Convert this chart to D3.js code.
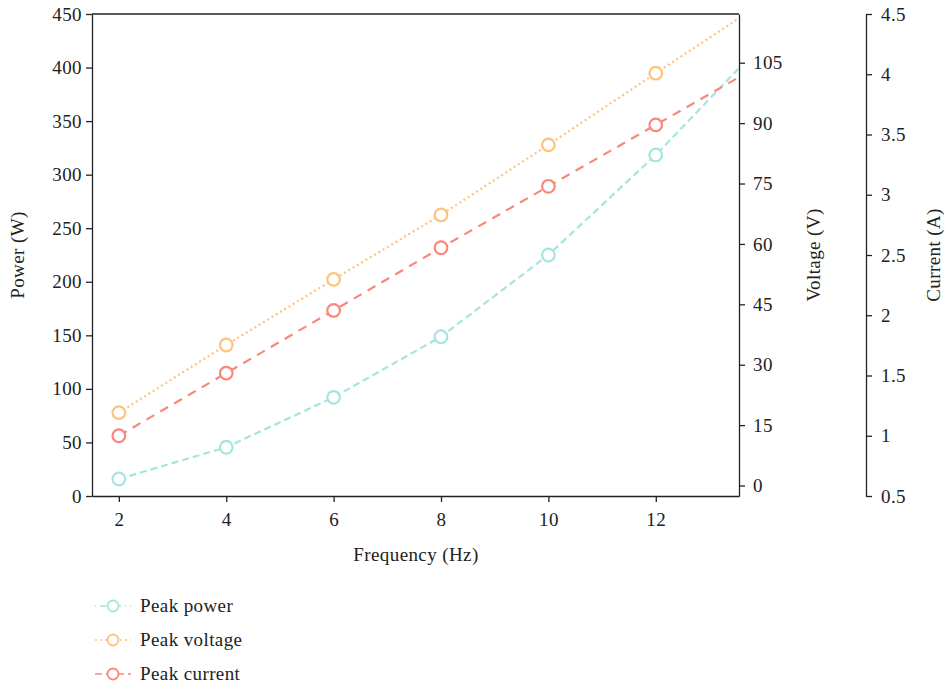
<!DOCTYPE html>
<html>
<head>
<meta charset="utf-8">
<script src="https://cdn.jsdelivr.net/npm/d3@7"></script>
<style>
  body { margin: 0; background: #fff; }
  text { font-family: "Liberation Serif", "DejaVu Serif", serif; fill: #222; letter-spacing: 0.4px; }
  .axis path, .axis line { stroke: #222; stroke-width: 1.3; }
  .axis text { font-size: 19px; }
</style>
</head>
<body>
<div id="chart"></div>
<script>
// frequency points (last one runs past the right edge and is clipped)
const freq = [2, 4, 6, 8, 10, 12, 14];
const power = [15.9, 45.5, 92.1, 148.7, 225, 318.4, 423];
const voltage = [18.1, 34.9, 51.2, 67.2, 84.6, 102.4, 120];
const current = [1.0, 1.52, 2.04, 2.56, 3.07, 3.58, 4.09];

const xTicks = [2, 4, 6, 8, 10, 12];
const powerTicks = [0, 50, 100, 150, 200, 250, 300, 350, 400, 450];
const voltTicks = [0, 15, 30, 45, 60, 75, 90, 105];
const currTicks = [0.5, 1, 1.5, 2, 2.5, 3, 3.5, 4, 4.5];

const W = 946, H = 689;
const plotL = 92, plotR = 739, plotT = 14, plotB = 496;
const currAxisX = 866;

const svg = d3.select("#chart").append("svg")
  .attr("width", W).attr("height", H);

const x = d3.scaleLinear().domain([1.5, 13.55]).range([plotL, plotR]);
const yP = d3.scaleLinear().domain([0, 450]).range([plotB, plotT]);
const yV = d3.scaleLinear().domain([-2.6, 117.1]).range([plotB, plotT]);
const yC = d3.scaleLinear().domain([0.5, 4.5]).range([plotB, plotT]);

svg.append("defs").append("clipPath").attr("id", "plot")
  .append("rect").attr("x", plotL).attr("y", plotT)
  .attr("width", plotR - plotL).attr("height", plotB - plotT);

const fmt = d => String(d);

// axes
svg.append("g").attr("class", "axis")
  .attr("transform", `translate(0,${plotB})`)
  .call(d3.axisBottom(x).tickValues(xTicks).tickFormat(fmt).tickSize(6).tickSizeOuter(0).tickPadding(11));

svg.append("g").attr("class", "axis")
  .attr("transform", `translate(${plotL},0)`)
  .call(d3.axisLeft(yP).tickValues(powerTicks).tickFormat(fmt).tickSize(6).tickSizeOuter(0).tickPadding(4));

svg.append("g").attr("class", "axis")
  .attr("transform", `translate(${plotR},0)`)
  .call(d3.axisRight(yV).tickValues(voltTicks).tickFormat(fmt).tickSize(6).tickSizeOuter(0).tickPadding(8));

svg.append("g").attr("class", "axis")
  .attr("transform", `translate(${currAxisX},0)`)
  .call(d3.axisRight(yC).tickValues(currTicks).tickFormat(fmt).tickSize(6).tickSizeOuter(0).tickPadding(9));

// top border of the plot box
svg.append("line")
  .attr("x1", plotL).attr("x2", plotR).attr("y1", plotT).attr("y2", plotT)
  .attr("stroke", "#222").attr("stroke-width", 1.3);

// axis titles
svg.append("text").attr("transform", `translate(24,255) rotate(-90)`)
  .attr("text-anchor", "middle").attr("font-size", 19).text("Power (W)");
svg.append("text").attr("transform", `translate(820,255) rotate(-90)`)
  .attr("text-anchor", "middle").attr("font-size", 19).text("Voltage (V)");
svg.append("text").attr("transform", `translate(940,255) rotate(-90)`)
  .attr("text-anchor", "middle").attr("font-size", 19).text("Current (A)");
svg.append("text").attr("x", 416).attr("y", 561)
  .attr("text-anchor", "middle").attr("font-size", 19).text("Frequency (Hz)");

const series = [
  { name: "Peak power", vals: power, y: yP, color: "#a6e5de", dash: "7,4", legDash: "1,4,6,4" },
  { name: "Peak voltage", vals: voltage, y: yV, color: "#fdc37a", dash: "2,3", legDash: "2,3" },
  { name: "Peak current", vals: current, y: yC, color: "#f9877c", dash: "9,7", legDash: "7,4" }
];

const plot = svg.append("g").attr("clip-path", "url(#plot)");

series.forEach(s => {
  const pts = freq.map((f, i) => [f, s.vals[i]]);
  plot.append("path")
    .datum(pts)
    .attr("fill", "none")
    .attr("stroke", s.color)
    .attr("stroke-width", 2.2)
    .attr("stroke-dasharray", s.dash)
    .attr("d", d3.line().x(d => x(d[0])).y(d => s.y(d[1])));
  plot.selectAll(null)
    .data(pts.filter(d => d[0] <= 12))
    .enter().append("circle")
    .attr("cx", d => x(d[0]))
    .attr("cy", d => s.y(d[1]))
    .attr("r", 6.3)
    .attr("fill", "#fff")
    .attr("stroke", s.color)
    .attr("stroke-width", 2.2);
});

// legend
const legend = svg.append("g");
series.forEach((s, i) => {
  const ly = 606 + i * 34;
  legend.append("line")
    .attr("x1", 95).attr("x2", 131).attr("y1", ly).attr("y2", ly)
    .attr("stroke", s.color).attr("stroke-width", 1.6)
    .attr("stroke-dasharray", s.legDash);
  legend.append("circle")
    .attr("cx", 113).attr("cy", ly).attr("r", 5.5)
    .attr("fill", "#fff").attr("stroke", s.color).attr("stroke-width", 1.8);
  legend.append("text")
    .attr("x", 140).attr("y", ly + 6)
    .attr("font-size", 19).text(s.name);
});
</script>
</body>
</html>
